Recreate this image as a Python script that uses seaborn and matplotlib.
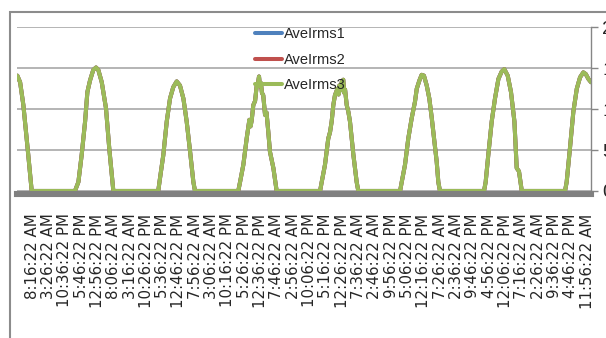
import matplotlib
matplotlib.use("Agg")
import matplotlib.pyplot as plt
import seaborn as sns
import pandas as pd
from matplotlib.patches import Rectangle

# -------------------------------
# Data
# -------------------------------
time_labels = [
    "8:16:22 AM", "3:26:22 AM", "10:36:22 PM", "5:46:22 PM", "12:56:22 PM",
    "8:06:22 AM", "3:16:22 AM", "10:26:22 PM", "5:36:22 PM", "12:46:22 PM",
    "7:56:22 AM", "3:06:22 AM", "10:16:22 PM", "5:26:22 PM", "12:36:22 PM",
    "7:46:22 AM", "2:56:22 AM", "10:06:22 PM", "5:16:22 PM", "12:26:22 PM",
    "7:36:22 AM", "2:46:22 AM", "9:56:22 PM", "5:06:22 PM", "12:16:22 PM",
    "7:26:22 AM", "2:36:22 AM", "9:46:22 PM", "4:56:22 PM", "12:06:22 PM",
    "7:16:22 AM", "2:26:22 AM", "9:36:22 PM", "4:46:22 PM", "11:56:22 AM",
]

# sample positions, counted in label steps from the first label
pos = [
    -0.90, -0.73, -0.53, -0.23, -0.02,
    2.63, 2.84, 3.04, 3.25, 3.39, 3.55, 3.75, 3.92, 4.06, 4.27, 4.53, 4.73, 4.98,
    7.73, 7.84, 8.04, 8.25, 8.45, 8.65, 8.86, 9.06, 9.27, 9.47, 9.68, 9.88, 9.98,
    12.63, 12.74, 12.94, 13.15, 13.31, 13.38, 13.45, 13.55, 13.66, 13.76, 13.84,
    13.90, 13.96, 14.02, 14.08, 14.16, 14.27, 14.36, 14.47, 14.57, 14.78, 14.98,
    17.64, 17.74, 17.94, 18.14, 18.25, 18.35, 18.45, 18.55, 18.70, 18.77, 18.82,
    18.89, 18.96, 19.06, 19.12, 19.17, 19.27, 19.37, 19.47, 19.68, 19.88, 19.98,
    22.54, 22.64, 22.84, 23.04, 23.25, 23.45, 23.56, 23.72, 23.86, 24.00, 24.17,
    24.33, 24.48, 24.62, 24.78, 24.88, 24.98,
    27.68, 27.78, 27.94, 28.15, 28.35, 28.56, 28.76, 28.92, 29.13, 29.33, 29.54,
    29.68, 29.82, 29.99,
    32.64, 32.74, 32.94, 33.15, 33.36, 33.56, 33.76, 33.91, 34.07, 34.23,
]

irms = [
    14.1, 13.3, 10.5, 4.4, 0,
    0, 1.1, 4.4, 8.5, 12.1, 13.5, 14.8, 15.1, 14.8, 13.3, 10.1, 5.2, 0,
    0, 1.6, 4.4, 8.5, 11.3, 12.7, 13.4, 12.9, 11.3, 8.5, 4.8, 1.1, 0,
    0, 1.1, 3.2, 6.5, 8.7, 7.9, 8.6, 10.5, 11.0, 12.9, 13.2,
    14.0, 12.8, 13.2, 12.0, 11.7, 9.3, 9.6, 7.2, 4.8, 2.8, 0,
    0, 1.1, 3.2, 6.4, 7.2, 8.5, 10.5, 11.7, 12.5, 11.8, 12.9,
    12.3, 13.3, 13.6, 12.0, 12.4, 10.5, 9.7, 8.5, 4.4, 1.1, 0,
    0, 1.1, 3.2, 6.4, 8.9, 10.9, 12.5, 13.5, 14.2, 14.1, 12.9,
    11.3, 8.9, 6.4, 3.6, 1.1, 0,
    0, 1.1, 4.4, 8.5, 11.3, 13.7, 14.6, 14.9, 14.1, 12.1, 8.5,
    2.8, 2.4, 0,
    0, 1.1, 5.2, 9.7, 12.5, 13.9, 14.5, 14.3, 13.7, 13.3,
]

# the three phases lie on top of each other in the source chart
ave_irms1 = irms
ave_irms2 = irms
ave_irms3 = irms

series_names = ["AveIrms1", "AveIrms2", "AveIrms3"]
series_colors = ["#4F81BD", "#C0504D", "#9BBB59"]

df = pd.DataFrame({
    "pos": pos * 3,
    "value": ave_irms1 + ave_irms2 + ave_irms3,
    "series": [series_names[0]] * len(pos) + [series_names[1]] * len(pos)
              + [series_names[2]] * len(pos),
})

# -------------------------------
# Plot
# -------------------------------
sns.set_style("white")
plt.rcParams["font.family"] = ["DejaVu Sans"]

fig = plt.figure(figsize=(6.06, 3.38), dpi=100)
ax = fig.add_axes([17 / 606, 1 - 194 / 338, (591 - 17) / 606, (194 - 27) / 338])

sns.lineplot(data=df, x="pos", y="value", hue="series", hue_order=series_names,
             palette=series_colors, linewidth=2.9, estimator=None, sort=False, ax=ax)

ax.set_xlim(-0.92, 34.23)
ax.set_ylim(-0.37, 20.05)
ax.set_xlabel("")
ax.set_ylabel("")

ax.set_xticks(range(len(time_labels)))
ax.set_xticklabels(time_labels, rotation=90, fontsize=10.8)
ax.tick_params(axis="x", length=0, pad=14)

ax.yaxis.tick_right()
ax.set_yticks([0, 5, 10, 15, 20])
ax.tick_params(axis="y", length=5, width=1, color="#868686", pad=3, labelsize=14)
for lab in ax.get_yticklabels():
    lab.set_family("Liberation Sans")

ax.grid(axis="y", color="#a0a0a0", linewidth=1.1)
ax.set_axisbelow(True)

ax.spines["left"].set_visible(False)
ax.spines["top"].set_visible(False)
ax.spines["right"].set_color("#868686")
ax.spines["right"].set_linewidth(1)
ax.spines["bottom"].set_color("#808080")
ax.spines["bottom"].set_linewidth(4.4)

sns.move_legend(ax, "upper left", bbox_to_anchor=(0.415, 1.0), frameon=False,
                title=None, prop={"family": "Liberation Sans", "size": 10.5},
                handlelength=1.85, handletextpad=0.12, labelspacing=0.8,
                borderpad=0, borderaxespad=0)

# chart area border (only top and left edges fall inside the crop)
fig.add_artist(Rectangle((10 / 606, -0.2), 1.2, 1.2 - 12 / 338,
                         transform=fig.transFigure, fill=False,
                         edgecolor="#8c8c8c", linewidth=1.5))

fig.savefig("out.png", dpi=100)
